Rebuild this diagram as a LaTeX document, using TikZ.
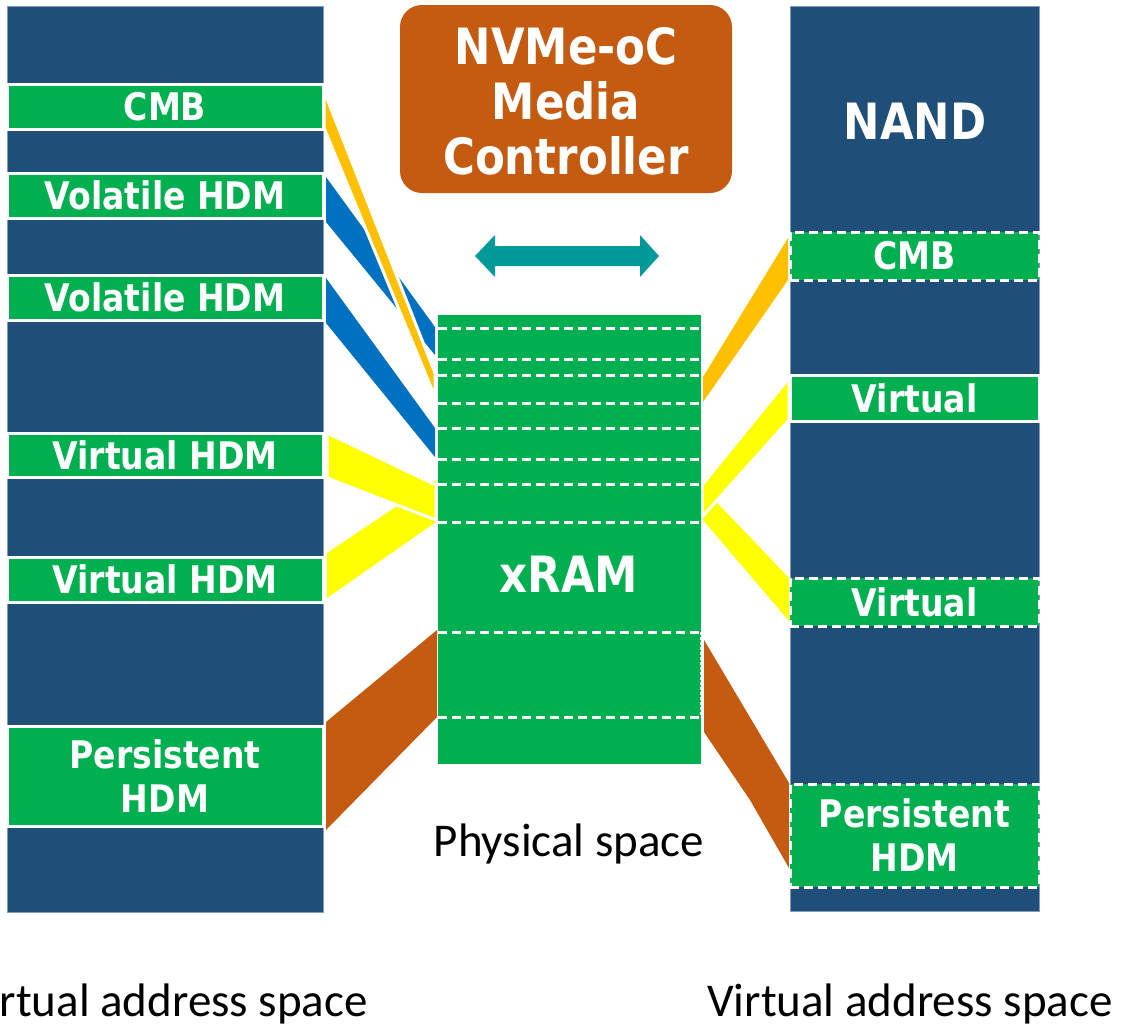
\documentclass[tikz,border=0pt]{standalone}
\usepackage{fontspec}
\newfontfamily\labfont{DejaVu Sans}[FakeStretch=0.87]
\newfontfamily\capfont{Carlito}
\definecolor{navy}{HTML}{1F4E79}
\definecolor{navyedge}{HTML}{7F9BBE}
\definecolor{mygreen}{HTML}{00B050}
\definecolor{rust}{HTML}{C55A11}
\definecolor{gold}{HTML}{FFC000}
\definecolor{mblue}{HTML}{0070C0}
\definecolor{yell}{HTML}{FFFF00}
\definecolor{tealc}{HTML}{009999}
\begin{document}
\begin{tikzpicture}[x=1pt,y=-1pt,
  seg/.style={rectangle, inner sep=0pt, outer sep=0pt, anchor=north west},
  darkcol/.style={seg, fill=navy, draw=navyedge, line width=0.8pt},
  grn/.style={seg, fill=mygreen, draw=white, line width=3pt, text=white,
    font=\labfont\bfseries\fontsize{38}{44}\selectfont, align=center},
  grnd/.style={grn, dash pattern=on 9pt off 5pt},
  big/.style={text=white, font=\labfont\bfseries\fontsize{50}{55}\selectfont, align=center, inner sep=0pt},
  cover/.style={draw=white, line width=3pt, line join=miter},
  captxt/.style={font=\capfont\fontsize{47}{52}\selectfont, text=black, inner sep=0pt},
  xline/.style={draw=white, line width=3pt, dash pattern=on 9pt off 5pt}
]
\clip (0,0) rectangle (1122,1026);
\fill[white] (0,0) rectangle (1122,1026);

% ---------- connector bands (drawn first) ----------
% left side
\fill[mblue] (326,177) -- (326,222) -- (435,355) -- (435,327) -- cycle;
\filldraw[fill=gold, cover] (324,91) -- (324,128) -- (435,397) -- (435,373) -- cycle;
\fill[mblue] (326,278) -- (326,323) -- (435,457) -- (435,428) -- cycle;
\fill[yell] (327,553) -- (327,598) -- (436,522) -- (436,480) -- cycle;
\filldraw[fill=yell, cover] (327,433) -- (327,478) -- (436,520) -- (436,485) -- cycle;
\fill[rust] (326,722) -- (326,830) -- (437,717) -- (437,630) -- cycle;
% right side
\fill[gold] (703,377) -- (703,402) -- (788,280) -- (788,238) -- cycle;
\fill[yell] (703,488) -- (703,520) -- (789,621) -- (789,578) -- cycle;
\filldraw[fill=yell, cover] (702,485) -- (702,517) -- (789,420) -- (789,378) -- cycle;
\fill[rust] (704,640) -- (704,732) -- (750,800) -- (789,868) -- (789,783) -- cycle;

% ---------- left column ----------
\node[darkcol, minimum width=316pt, minimum height=906pt] (lcol) at (7,6) {};
\node[grn, minimum width=316pt, minimum height=45pt] (lcmb) at (7,84) {CMB};
\node[grn, minimum width=316pt, minimum height=45pt] (lvol1) at (7,173) {Volatile HDM};
\node[grn, minimum width=316pt, minimum height=45pt] (lvol2) at (7,275) {Volatile HDM};
\node[grn, minimum width=316pt, minimum height=44pt] (lvirt1) at (7,433) {Virtual HDM};
\node[grn, minimum width=316pt, minimum height=45pt] (lvirt2) at (7,557) {Virtual HDM};
\node[grn, minimum width=316pt, minimum height=100pt] (lpers) at (7,726) {Persistent\\HDM};

% ---------- right column ----------
\node[darkcol, minimum width=249pt, minimum height=905pt] (rcol) at (790,6) {};
\node[big] (nand) at (915,121) {NAND};
\node[grnd, minimum width=249pt, minimum height=48pt] (rcmb) at (790,232) {CMB};
\node[grn, minimum width=249pt, minimum height=46pt] (rvirt1) at (790,375) {Virtual};
\node[grnd, minimum width=249pt, minimum height=48pt] (rvirt2) at (790,578) {Virtual};
\node[grnd, minimum width=249pt, minimum height=103pt] (rpers) at (790,784) {Persistent\\HDM};

% ---------- xRAM ----------
\node[seg, fill=mygreen, minimum width=263pt, minimum height=449pt] (xram) at (438,315) {};
\foreach \yy in {328,359,375,403,428,459,484,522,632,717}
  \draw[xline] (438,\yy) -- (701,\yy);
\draw[draw=white, line width=1pt, dash pattern=on 3pt off 2pt] (700,632) -- (700,717);
\node[big] (xlab) at (569,574) {xRAM};
\node[captxt, anchor=base] (phys) at (569,856) {Physical space};

% ---------- controller ----------
\node[seg, fill=rust, rounded corners=22pt, minimum width=332pt, minimum height=188pt] (ctl) at (400,5) {};
\node[big] (ctltext) at (566,101) {NVMe-oC\\Media\\Controller};
\fill[tealc] (475,256) -- (495,235) -- (495,246) -- (640,246) -- (640,235) -- (659,256)
  -- (640,277) -- (640,266) -- (495,266) -- (495,277) -- cycle;

% ---------- captions ----------
\node[captxt, anchor=base east] (lcap) at (368,1016) {Virtual address space};
\node[captxt, anchor=base west] (rcap) at (707,1016) {Virtual address space};
\end{tikzpicture}
\end{document}
